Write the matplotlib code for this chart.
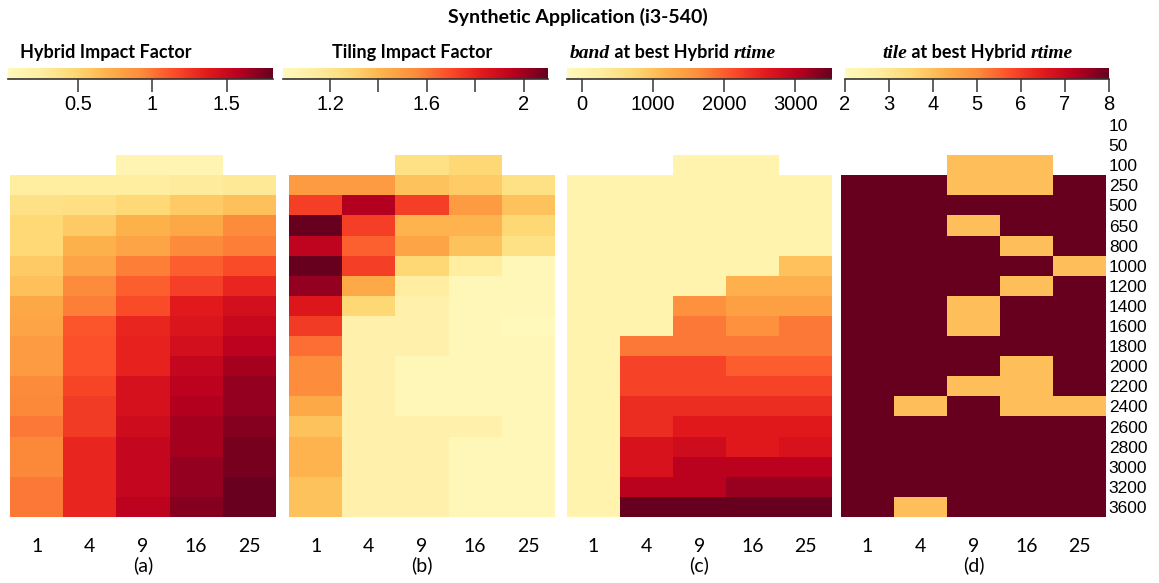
import matplotlib
matplotlib.use("Agg")
import matplotlib.pyplot as plt
import numpy as np
from matplotlib.colors import LinearSegmentedColormap, Normalize

nan = np.nan

# matrix sizes (rows, top to bottom) and thread counts (columns)
sizes = [10, 50, 100, 250, 500, 650, 800, 1000, 1200, 1400, 1600,
         1800, 2000, 2200, 2400, 2600, 2800, 3000, 3200, 3600]
threads = ["1", "4", "9", "16", "25"]

# (a) Hybrid impact factor
hybrid = [
    [nan, nan, nan, nan, nan],
    [nan, nan, nan, nan, nan],
    [nan, nan, 0.12, 0.12, nan],
    [0.25, 0.25, 0.25, 0.28, 0.30],
    [0.39, 0.40, 0.47, 0.56, 0.62],
    [0.47, 0.56, 0.70, 0.76, 0.92],
    [0.47, 0.70, 0.78, 0.92, 0.97],
    [0.56, 0.78, 0.97, 1.08, 1.15],
    [0.62, 0.92, 1.08, 1.20, 1.31],
    [0.76, 0.97, 1.15, 1.37, 1.45],
    [0.78, 1.12, 1.31, 1.40, 1.50],
    [0.83, 1.13, 1.33, 1.45, 1.56],
    [0.83, 1.13, 1.33, 1.52, 1.63],
    [0.92, 1.18, 1.44, 1.56, 1.68],
    [0.94, 1.22, 1.44, 1.60, 1.68],
    [0.99, 1.22, 1.47, 1.63, 1.72],
    [0.94, 1.31, 1.52, 1.63, 1.76],
    [0.94, 1.31, 1.52, 1.68, 1.76],
    [0.99, 1.31, 1.52, 1.68, 1.80],
    [0.99, 1.31, 1.56, 1.72, 1.80],
]

# (b) Tiling impact factor
tiling = [
    [nan, nan, nan, nan, nan],
    [nan, nan, nan, nan, nan],
    [nan, nan, 1.23, 1.28, nan],
    [1.50, 1.50, 1.36, 1.33, 1.23],
    [1.73, 1.97, 1.73, 1.50, 1.36],
    [2.10, 1.73, 1.41, 1.41, 1.28],
    [1.94, 1.65, 1.46, 1.36, 1.23],
    [2.10, 1.73, 1.28, 1.14, 1.03],
    [2.02, 1.45, 1.13, 1.03, 1.03],
    [1.84, 1.28, 1.09, 1.03, 1.03],
    [1.74, 1.09, 1.09, 1.03, 1.00],
    [1.62, 1.09, 1.09, 1.03, 1.03],
    [1.55, 1.09, 1.03, 1.03, 1.03],
    [1.55, 1.09, 1.03, 1.03, 1.03],
    [1.45, 1.09, 1.03, 1.03, 1.03],
    [1.36, 1.09, 1.09, 1.09, 1.03],
    [1.41, 1.09, 1.09, 1.03, 1.03],
    [1.41, 1.09, 1.09, 1.03, 1.03],
    [1.36, 1.09, 1.09, 1.03, 1.03],
    [1.36, 1.09, 1.09, 1.03, 1.03],
]

# (c) band at best Hybrid rtime
band = [
    [nan, nan, nan, nan, nan],
    [nan, nan, nan, nan, nan],
    [nan, nan, 10, 10, nan],
    [10, 10, 10, 10, 10],
    [10, 10, 10, 10, 10],
    [10, 10, 10, 10, 10],
    [10, 10, 10, 10, 10],
    [10, 10, 10, 10, 1000],
    [10, 10, 10, 1200, 1200],
    [10, 10, 1600, 1400, 1400],
    [10, 10, 1800, 1600, 1800],
    [10, 1800, 1800, 1800, 1800],
    [10, 2200, 2200, 2000, 2000],
    [10, 2200, 2200, 2200, 2200],
    [10, 2400, 2400, 2400, 2400],
    [10, 2400, 2600, 2600, 2600],
    [10, 2700, 2800, 2600, 2700],
    [10, 2700, 3000, 3000, 3000],
    [10, 3000, 3000, 3200, 3200],
    [10, 3600, 3600, 3600, 3600],
]

# (d) tile at best Hybrid rtime
tile = [
    [nan, nan, nan, nan, nan],
    [nan, nan, nan, nan, nan],
    [nan, nan, 4, 4, nan],
    [8, 8, 4, 4, 8],
    [8, 8, 8, 8, 8],
    [8, 8, 4, 8, 8],
    [8, 8, 8, 4, 8],
    [8, 8, 8, 8, 4],
    [8, 8, 8, 4, 8],
    [8, 8, 4, 8, 8],
    [8, 8, 4, 8, 8],
    [8, 8, 8, 8, 8],
    [8, 8, 8, 4, 8],
    [8, 8, 4, 4, 8],
    [8, 4, 8, 4, 4],
    [8, 8, 8, 8, 8],
    [8, 8, 8, 8, 8],
    [8, 8, 8, 8, 8],
    [8, 8, 8, 8, 8],
    [8, 4, 8, 8, 8],
]

cmap = LinearSegmentedColormap.from_list("heat", [
    "#FFF9BC", "#FFEDA0", "#FED976", "#FEB24C", "#FD8D3C",
    "#FC4E2A", "#E31A1C", "#B8001F", "#67001F"])
cmap.set_bad("white")

W, H = 1159, 583
fig = plt.figure(figsize=(W / 100, H / 100), dpi=100)


def px_axes(x0, y0, x1, y1):
    # axes placed by pixel box (left, top, right, bottom)
    return fig.add_axes([x0 / W, 1 - y1 / H, (x1 - x0) / W, (y1 - y0) / H])


panels = [
    (hybrid, 0.03, 1.81, (10, 276), (8, 273), [0.5, 1, 1.5], ["0.5", "1", "1.5"],
     [("Hybrid Impact Factor", "sans")], 20, "(a)"),
    (tiling, 1.006, 2.1, (289, 555), (283, 548), [1.2, 1.4, 1.6, 1.8, 2.0],
     ["1.2", "", "1.6", "", "2"], [("Tiling Impact Factor", "sans")], 332, "(b)"),
    (band, -210, 3500, (567, 832), (567, 831), [0, 1000, 2000, 3000],
     ["0", "1000", "2000", "3000"],
     [("band", "serif"), (" at best Hybrid ", "sans"), ("rtime", "serif")], 570, "(c)"),
    (tile, 2, 8, (841, 1106), (845, 1109), [2, 3, 4, 5, 6, 7, 8],
     ["2", "3", "4", "5", "6", "7", "8"],
     [("tile", "serif"), (" at best Hybrid ", "sans"), ("rtime", "serif")], 882, "(d)"),
]

title_runs = []

for i, (data, vmin, vmax, hx, cx, cticks, clabels, ctitle, tx, plabel) in enumerate(panels):
    norm = Normalize(vmin=vmin, vmax=vmax)

    # heatmap
    ax = px_axes(hx[0], 115, hx[1], 517)
    ax.imshow(np.array(data, dtype=float), cmap=cmap, norm=norm, aspect="auto",
              interpolation="nearest")
    for s in ax.spines.values():
        s.set_visible(False)
    ax.set_xticks(range(len(threads)), labels=threads, fontfamily="Lato", fontsize=14)
    ax.tick_params(axis="x", length=0, pad=15)
    ax.set_xlabel(plabel, fontfamily="Lato", fontsize=14, labelpad=1)
    if i == 3:
        ax.yaxis.tick_right()
        ax.set_yticks(range(len(sizes)), labels=[str(s) for s in sizes],
                      fontfamily="Liberation Sans", fontsize=12.5)
        ax.tick_params(axis="y", length=0, pad=2)
    else:
        ax.set_yticks([])

    # colour key
    cax = px_axes(cx[0], 68, cx[1], 79)
    grad = np.linspace(vmin, vmax, 256)[None, :]
    cax.imshow(grad, cmap=cmap, norm=norm, aspect="auto",
               extent=[vmin, vmax, 0, 1])
    cax.set_xlim(vmin, vmax)
    cax.set_ylim(0, 1)
    for side in ["top", "left", "right"]:
        cax.spines[side].set_visible(False)
    cax.spines["bottom"].set_color("#333333")
    cax.spines["bottom"].set_linewidth(1.2)
    cax.set_yticks([])
    cax.set_xticks(cticks, labels=clabels, fontfamily="Liberation Sans", fontsize=14.5)
    cax.tick_params(axis="x", length=9.5, width=1.2, color="#444444", pad=2)

    title_runs.append((tx, ctitle))

# key titles: pieces laid side by side, each starting where the last one ends
fig.canvas.draw()
renderer = fig.canvas.get_renderer()
for tx, runs in title_runs:
    x = tx
    for txt, style in runs:
        if style == "serif":
            kw = dict(fontfamily="Liberation Serif", fontstyle="italic",
                      fontweight="bold", fontsize=14)
        else:
            kw = dict(fontfamily="Lato", fontweight="bold", fontsize=13)
        t = fig.text(x / W, 1 - 58 / H, txt, va="baseline", ha="left", **kw)
        x = t.get_window_extent(renderer).x1

fig.text(578 / W, 1 - 17 / H, "Synthetic Application (i3-540)", fontfamily="Lato",
         fontweight="bold", fontsize=14, ha="center", va="center")

fig.savefig("out.png", dpi=100)
